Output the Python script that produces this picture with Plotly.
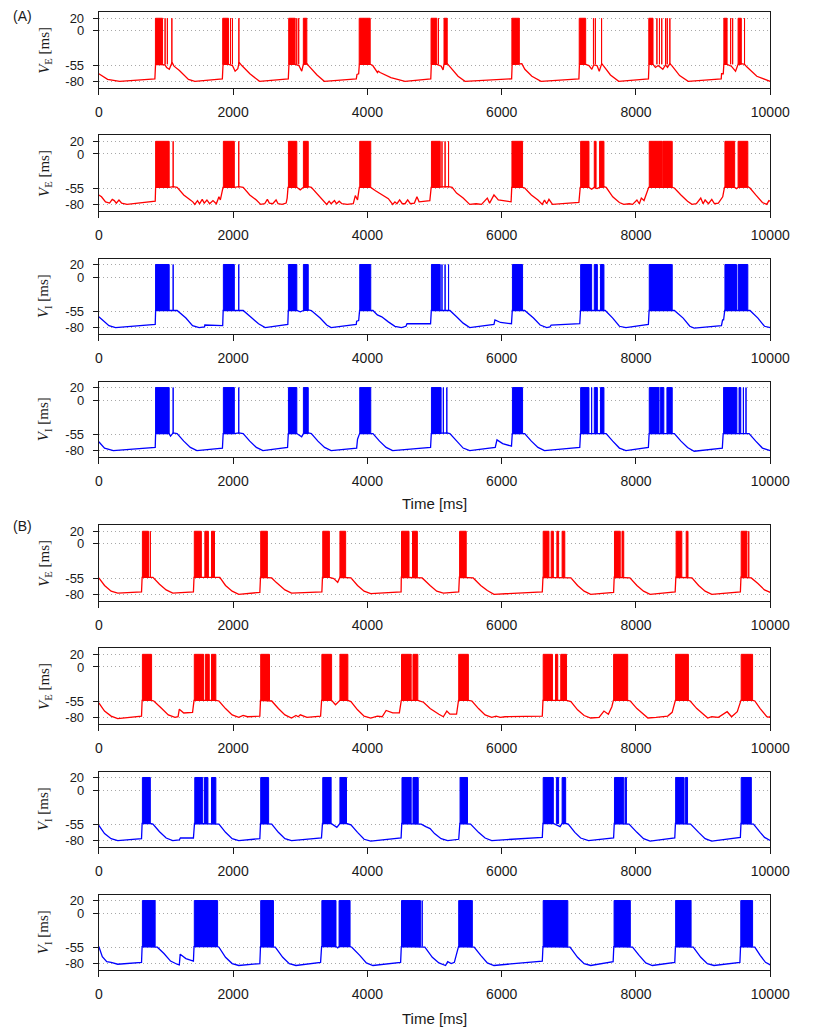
import plotly.graph_objects as go

# ---------------------------------------------------------------------------
# Membrane potential traces (time in ms, voltage in mV).
# *_trace  : subthreshold waypoints (t, v)
# *_spikes : spiking intervals [start, end]; start == end is a single spike
# ---------------------------------------------------------------------------
SPIKE_PEAK = 20
SPIKE_FLOOR = -53

X_TICKS = [0, 2000, 4000, 6000, 8000, 10000]
Y_TICKS = [20, 0, -55, -80]
Y_TICK_TEXT = ["20", "0", "-55", "-80"]

# ---- (A) row 1 : excitatory ----
a1_trace = [
    (0, -68), (130, -77), (310, -80), (835, -76), (845, -53), (950, -53), (985, -54),
    (1010, -58), (1050, -61), (1090, -50), (1120, -56), (1200, -63), (1335, -77), (1430, -80),
    (1840, -76), (1850, -53), (1935, -53), (1990, -55), (2030, -64), (2070, -60), (2090, -50),
    (2130, -55), (2250, -68), (2393, -80),
    (2822, -76), (2832, -53), (2925, -53), (2980, -55), (3022, -64), (3046, -53), (3100, -52),
    (3130, -56), (3250, -70), (3358, -80),
    (3835, -76), (3845, -69), (3870, -68), (3880, -53), (4045, -53), (4080, -55), (4114, -60),
    (4150, -66), (4162, -64), (4190, -66), (4350, -74), (4560, -80),
    (4944, -76), (4952, -53), (5035, -53), (5100, -56), (5127, -62), (5141, -53), (5190, -52),
    (5250, -60), (5350, -72), (5454, -80),
    (6148, -76), (6156, -53), (6263, -53), (6300, -52), (6345, -61), (6450, -72), (6586, -80),
    (7150, -76), (7158, -53), (7251, -53), (7300, -55), (7343, -61), (7370, -54), (7420, -55),
    (7453, -64), (7490, -52), (7520, -56), (7620, -70), (7743, -80),
    (8186, -76), (8194, -53), (8254, -53), (8290, -58), (8330, -55), (8400, -61), (8440, -54),
    (8470, -58), (8505, -52), (8540, -56), (8650, -71), (8778, -80),
    (9270, -76), (9275, -68), (9300, -68), (9309, -53), (9357, -53), (9420, -56), (9483, -64),
    (9521, -53), (9570, -52), (9617, -53), (9650, -57), (9800, -72), (10000, -80),
]
a1_spikes = [
    [843, 949], [987, 987], [1021, 1021], [1088, 1088],
    [1845, 1932], [1961, 1961], [1990, 1990], [2086, 2086],
    [2828, 2924], [2948, 2948], [2977, 2977], [3046, 3098],
    [3878, 4042],
    [4948, 5035], [5059, 5059], [5141, 5189],
    [6152, 6263],
    [7155, 7251], [7367, 7367], [7395, 7395], [7488, 7488],
    [8191, 8254], [8312, 8312], [8350, 8350], [8384, 8384], [8442, 8442], [8466, 8466], [8505, 8505],
    [9309, 9357], [9410, 9410], [9440, 9440], [9521, 9569], [9617, 9617],
]

# ---- (A) row 2 : excitatory ----
a2_trace = [
    (0, -65), (40, -68), (100, -76), (160, -78), (200, -72), (230, -74), (260, -78), (300, -73),
    (340, -78), (420, -80), (840, -75), (846, -53), (1048, -53), (1107, -52), (1166, -53),
    (1265, -65), (1363, -73), (1400, -76), (1429, -80), (1470, -74), (1500, -79), (1540, -72),
    (1570, -78), (1610, -73), (1650, -79), (1700, -74), (1750, -79), (1789, -68), (1810, -73),
    (1828, -65), (1850, -53),
    (2018, -53), (2084, -52), (2150, -53), (2248, -65), (2346, -73), (2411, -80), (2470, -79),
    (2510, -72), (2540, -78), (2590, -79), (2640, -73), (2670, -79), (2730, -80), (2790, -78),
    (2805, -70), (2818, -53),
    (2949, -53), (3000, -57), (3047, -53), (3119, -52), (3165, -53), (3263, -65), (3329, -73),
    (3394, -80), (3430, -75), (3460, -79), (3510, -74), (3540, -79), (3580, -75), (3620, -79),
    (3700, -80), (3790, -79), (3820, -66), (3853, -73), (3880, -53),
    (4050, -53), (4115, -58), (4214, -65), (4312, -71), (4377, -80), (4410, -76), (4440, -79),
    (4480, -73), (4520, -79), (4560, -79), (4600, -73), (4640, -79), (4700, -78), (4738, -68),
    (4770, -76), (4930, -74), (4950, -53),
    (5209, -52), (5262, -53), (5328, -62), (5426, -70), (5524, -80), (5620, -79), (5700, -80),
    (5786, -70), (5820, -78), (5885, -65), (5950, -73), (6140, -76), (6150, -53),
    (6311, -53), (6343, -54), (6442, -65), (6540, -73), (6605, -80), (6638, -73), (6670, -79),
    (6704, -72), (6757, -80), (7150, -77), (7170, -53),
    (7300, -53), (7340, -56), (7379, -53), (7420, -55), (7458, -53), (7523, -52), (7556, -53),
    (7654, -68), (7753, -77), (7818, -80), (7900, -79), (7950, -80), (8014, -73), (8050, -79),
    (8080, -70), (8120, -74), (8146, -65), (8190, -53),
    (8540, -53), (8572, -54), (8670, -65), (8768, -75), (8834, -80), (8900, -79), (8965, -70),
    (9000, -79), (9030, -73), (9080, -79), (9129, -72), (9170, -79), (9227, -78), (9292, -68),
    (9318, -53),
    (9470, -53), (9500, -55), (9521, -53), (9666, -52), (9698, -54), (9784, -65), (9883, -77),
    (9948, -80), (9980, -74), (10000, -75),
]
a2_spikes = [
    [846, 1048], [1107, 1107],
    [1855, 2018], [2084, 2084],
    [2824, 2949], [3047, 3119],
    [3886, 4050],
    [4954, 5085], [5111, 5111], [5157, 5157], [5209, 5209],
    [6153, 6311],
    [7176, 7300], [7379, 7406], [7458, 7523],
    [8198, 8390], [8400, 8540],
    [9325, 9470], [9521, 9666],
]

# ---- (A) row 3 : inhibitory ----
a3_trace = [
    (0, -63), (151, -77), (249, -80), (840, -75), (846, -53), (1048, -53), (1107, -52),
    (1166, -53), (1297, -65), (1396, -77), (1494, -80), (1575, -79), (1579, -76), (1845, -77),
    (1852, -53),
    (2018, -53), (2084, -52), (2150, -53), (2280, -65), (2379, -74), (2477, -80), (2815, -75),
    (2822, -53),
    (2949, -53), (3000, -55), (3047, -53), (3119, -52), (3165, -53), (3296, -65), (3394, -76),
    (3460, -80), (3834, -75), (3840, -70), (3870, -69), (3884, -53),
    (4050, -53), (4083, -53), (4148, -60), (4214, -63), (4312, -71), (4410, -78), (4508, -80),
    (4574, -78), (4590, -74), (4941, -74), (4952, -53),
    (5209, -52), (5229, -53), (5328, -63), (5426, -73), (5524, -80), (5885, -75), (5900, -68),
    (5983, -72), (6146, -74), (6158, -53),
    (6311, -53), (6343, -53), (6474, -65), (6573, -76), (6671, -80), (6720, -79), (6737, -76),
    (7163, -74), (7174, -53),
    (7523, -52), (7543, -53), (7654, -65), (7753, -78), (7851, -80), (8185, -75), (8196, -53),
    (8540, -53), (8572, -53), (8703, -65), (8802, -78), (8867, -81), (9273, -77), (9290, -68),
    (9305, -68), (9322, -53),
    (9666, -52), (9698, -53), (9816, -65), (9914, -78), (10000, -80),
]
a3_spikes = [
    [845, 1048], [1107, 1107],
    [1855, 2018], [2084, 2084],
    [2824, 2949], [3047, 3119],
    [3886, 4050],
    [4954, 5085], [5111, 5111], [5157, 5157], [5209, 5209],
    [6160, 6311],
    [7176, 7340], [7379, 7425], [7471, 7523],
    [8198, 8540],
    [9325, 9497], [9521, 9666],
]

# ---- (A) row 4 : inhibitory ----
a4_trace = [
    (0, -66), (85, -76), (216, -80), (840, -75), (846, -53), (1048, -53), (1068, -57),
    (1090, -53), (1107, -52), (1166, -53), (1265, -65), (1363, -75), (1461, -80), (1841, -76),
    (1852, -53),
    (2018, -53), (2084, -52), (2150, -53), (2248, -65), (2346, -75), (2444, -80), (2811, -75),
    (2822, -53),
    (2949, -53), (3021, -58), (3047, -53), (3119, -52), (3165, -53), (3263, -65), (3362, -75),
    (3460, -80), (3840, -76), (3853, -62), (3884, -53),
    (4050, -53), (4083, -53), (4181, -65), (4279, -75), (4377, -80), (4941, -75), (4952, -53),
    (5183, -52), (5229, -53), (5328, -65), (5426, -76), (5524, -80), (5904, -75), (5930, -63),
    (6015, -69), (6146, -73), (6158, -53),
    (6311, -53), (6343, -53), (6442, -65), (6540, -75), (6638, -80), (7163, -75), (7174, -53),
    (7523, -52), (7556, -53), (7654, -65), (7753, -76), (7851, -80), (8185, -75), (8196, -53),
    (8540, -53), (8572, -53), (8670, -65), (8768, -75), (8867, -81), (9286, -76), (9299, -53),
    (9639, -52), (9685, -53), (9784, -65), (9883, -76), (10000, -80),
]
a4_spikes = [
    [845, 1048], [1107, 1107],
    [1855, 2018], [2084, 2084],
    [2824, 2949], [3047, 3119],
    [3886, 4050],
    [4954, 5098], [5131, 5131], [5183, 5183],
    [6160, 6311],
    [7176, 7300], [7340, 7340], [7379, 7425], [7471, 7523],
    [8198, 8343], [8362, 8415], [8461, 8540],
    [9305, 9503], [9535, 9561], [9600, 9600], [9639, 9639],
]

# ---- (B) row 1 : excitatory ----
b1_trace = [
    (0, -54), (85, -66), (183, -75), (282, -78), (636, -76), (645, -53),
    (741, -53), (806, -53), (904, -64), (1003, -73), (1101, -78), (1409, -76), (1418, -53),
    (1723, -53), (1802, -53), (1887, -66), (1986, -75), (2084, -80), (2398, -77), (2408, -53),
    (2510, -53), (2575, -54), (2641, -61), (2772, -73), (2870, -78), (3322, -76), (3331, -53),
    (3434, -53), (3500, -55), (3558, -61), (3591, -53), (3676, -53), (3755, -54), (3853, -66),
    (3951, -75), (4050, -79), (4502, -76), (4505, -53),
    (4744, -53), (4816, -54), (4934, -66), (5033, -75), (5131, -78), (5360, -76), (5370, -53),
    (5472, -53), (5576, -54), (5688, -66), (5786, -74), (5885, -80), (6605, -76), (6615, -53),
    (6940, -53), (7031, -54), (7130, -66), (7228, -75), (7326, -80), (7667, -77), (7676, -53),
    (7818, -53), (7910, -54), (8014, -66), (8113, -75), (8211, -80), (8584, -76), (8594, -53),
    (8775, -53), (8834, -54), (8933, -66), (9030, -75), (9129, -80), (9555, -76), (9564, -53),
    (9686, -53), (9718, -54), (9816, -63), (9914, -73), (10000, -77),
]
b1_spikes = [
    [649, 741], [767, 767],
    [1422, 1527], [1579, 1632], [1678, 1723],
    [2411, 2510],
    [3335, 3434], [3591, 3676],
    [4508, 4620], [4672, 4744],
    [5373, 5472],
    [6618, 6704], [6737, 6770], [6822, 6848], [6900, 6940],
    [7680, 7766], [7792, 7818],
    [8598, 8683], [8748, 8775],
    [9567, 9653], [9680, 9686],
]

# ---- (B) row 2 : excitatory ----
b2_trace = [
    (0, -57), (85, -70), (183, -78), (282, -82), (636, -78), (645, -53),
    (786, -53), (819, -54), (937, -66), (1035, -76), (1134, -80), (1180, -79), (1199, -67),
    (1265, -73), (1396, -72), (1418, -53),
    (1743, -53), (1789, -54), (1887, -66), (1986, -76), (2084, -80), (2149, -77), (2215, -79),
    (2398, -78), (2408, -53),
    (2542, -53), (2575, -54), (2674, -66), (2772, -76), (2870, -81), (2936, -77), (2970, -79),
    (3001, -76), (3100, -80), (3303, -78), (3318, -53),
    (3467, -53), (3525, -60), (3591, -53), (3709, -53), (3755, -55), (3853, -68), (3951, -78),
    (4050, -81), (4148, -78), (4220, -79), (4279, -69), (4377, -73), (4476, -73), (4505, -53),
    (4751, -53), (4836, -56), (4934, -66), (5065, -75), (5131, -79), (5183, -70), (5229, -75),
    (5328, -75), (5357, -53),
    (5504, -53), (5557, -54), (5655, -66), (5753, -76), (5852, -80), (5917, -78), (5980, -80),
    (6048, -79), (6605, -78), (6615, -53),
    (6966, -53), (7031, -55), (7130, -68), (7228, -77), (7326, -81), (7450, -80), (7523, -70),
    (7589, -75), (7641, -63), (7664, -53),
    (7877, -53), (7916, -54), (8014, -66), (8113, -76), (8178, -81), (8300, -80), (8375, -79),
    (8473, -78), (8539, -72), (8587, -53),
    (8781, -53), (8808, -54), (8906, -66), (9004, -76), (9069, -81), (9129, -79), (9227, -80),
    (9358, -71), (9424, -79), (9509, -71), (9564, -53),
    (9737, -53), (9770, -54), (9850, -66), (9948, -79), (9990, -80), (10000, -78),
]
b2_spikes = [
    [649, 786],
    [1422, 1560], [1586, 1645], [1678, 1743],
    [2411, 2542],
    [3322, 3467], [3591, 3709],
    [4508, 4652], [4679, 4751],
    [5360, 5504],
    [6618, 6756], [6802, 6835], [6880, 6966],
    [7667, 7877],
    [8591, 8781],
    [9567, 9737],
]

# ---- (B) row 3 : inhibitory ----
b3_trace = [
    (0, -56), (85, -69), (183, -77), (282, -80), (636, -77), (645, -53),
    (767, -53), (806, -54), (904, -66), (1003, -76), (1101, -80), (1199, -79), (1215, -76),
    (1409, -76), (1425, -53),
    (1743, -53), (1789, -54), (1887, -67), (1986, -77), (2084, -80), (2398, -77), (2408, -53),
    (2529, -53), (2575, -54), (2674, -67), (2772, -77), (2870, -80), (3316, -76), (3331, -53),
    (3460, -53), (3545, -59), (3591, -53), (3689, -53), (3755, -55), (3853, -67), (3951, -78),
    (4050, -81), (4502, -76), (4512, -53),
    (4757, -53), (4803, -54), (4869, -58), (4934, -61), (5000, -69), (5098, -77), (5196, -80),
    (5360, -78), (5377, -53),
    (5491, -53), (5537, -54), (5655, -67), (5753, -76), (5852, -80), (6605, -75), (6615, -53),
    (6769, -53), (6870, -58), (6900, -53), (6953, -53), (6992, -54), (7090, -67), (7176, -76),
    (7293, -80), (7667, -76), (7677, -53),
    (7858, -53), (7897, -54), (8014, -67), (8113, -77), (8211, -81), (8578, -76), (8588, -53),
    (8768, -53), (8814, -54), (8933, -67), (9030, -77), (9129, -81), (9555, -75), (9564, -53),
    (9718, -53), (9751, -54), (9850, -67), (9915, -75), (10000, -80),
]
b3_spikes = [
    [649, 767],
    [1429, 1547], [1573, 1625], [1678, 1743],
    [2411, 2529],
    [3335, 3460], [3591, 3689],
    [4515, 4652], [4679, 4757],
    [5380, 5491],
    [6618, 6769], [6815, 6848], [6900, 6953],
    [7680, 7818], [7838, 7858],
    [8591, 8716], [8735, 8768],
    [9567, 9718],
]

# ---- (B) row 4 : inhibitory ----
b4_trace = [
    (0, -53), (52, -69), (118, -77), (183, -78), (282, -81), (636, -78), (645, -53),
    (839, -53), (872, -54), (970, -64), (1068, -76), (1166, -81), (1199, -82), (1212, -65),
    (1297, -72), (1409, -76), (1418, -53),
    (1769, -53), (1789, -54), (1887, -70), (1986, -80), (2084, -83), (2398, -80), (2408, -53),
    (2601, -53), (2628, -54), (2739, -70), (2837, -80), (2936, -83), (3303, -78), (3318, -53),
    (3532, -53), (3558, -55), (3578, -53), (3742, -53), (3768, -54), (3886, -67), (3984, -79),
    (4083, -83), (4495, -78), (4505, -53),
    (4816, -53), (4856, -54), (4967, -70), (5065, -79), (5164, -83), (5196, -77), (5249, -80),
    (5295, -78), (5357, -53),
    (5563, -53), (5590, -54), (5688, -67), (5786, -79), (5885, -83), (6605, -76), (6615, -53),
    (6985, -53), (7018, -54), (7130, -70), (7228, -80), (7326, -83), (7660, -77), (7670, -53),
    (7916, -53), (7949, -54), (8047, -67), (8146, -79), (8244, -83), (8578, -78), (8588, -53),
    (8821, -53), (8853, -54), (8965, -70), (9063, -80), (9162, -83), (9548, -78), (9558, -53),
    (9737, -53), (9770, -54), (9850, -67), (9929, -78), (10000, -82),
]
b4_spikes = [
    [649, 839],
    [1422, 1769],
    [2411, 2601],
    [3322, 3532], [3578, 3742],
    [4508, 4790], [4816, 4816],
    [5360, 5563],
    [6618, 6985],
    [7674, 7916],
    [8591, 8821],
    [9561, 9737],
]

RED = "#ff0000"
BLUE = "#0000ff"
LABEL_E = "<i>V</i><sub>E</sub> [ms]"
LABEL_I = "<i>V</i><sub>I</sub> [ms]"

panels = [
    (a1_trace, a1_spikes, RED, LABEL_E),
    (a2_trace, a2_spikes, RED, LABEL_E),
    (a3_trace, a3_spikes, BLUE, LABEL_I),
    (a4_trace, a4_spikes, BLUE, LABEL_I),
    (b1_trace, b1_spikes, RED, LABEL_E),
    (b2_trace, b2_spikes, RED, LABEL_E),
    (b3_trace, b3_spikes, BLUE, LABEL_I),
    (b4_trace, b4_spikes, BLUE, LABEL_I),
]

# ---------------------------------------------------------------------------
# Layout geometry (pixels)
# ---------------------------------------------------------------------------
W, H = 815, 1032
PLOT_LEFT, PLOT_RIGHT = 97.7, 789.5
PANEL_H = 75.8
PANEL_TOPS = [11.3, 134.6, 258.0, 381.3, 525.3, 648.6, 772.0, 895.3]

SANS = "Liberation Sans, Arial, sans-serif"
SERIF = "Liberation Serif, Times New Roman, serif"
INK = "#1a1a1a"

fig = go.Figure()
layout = dict(
    width=W, height=H,
    margin=dict(l=0, r=0, t=0, b=0),
    paper_bgcolor="white", plot_bgcolor="white",
    showlegend=False,
    annotations=[],
)

for i, (trace, spikes, color, ylab) in enumerate(panels):
    n = i + 1
    xname = "x" if n == 1 else f"x{n}"
    yname = "y" if n == 1 else f"y{n}"
    top = PANEL_TOPS[i]
    y_dom = [1 - (top + PANEL_H) / H, 1 - top / H]

    t_vals = [p[0] for p in trace]
    v_vals = [p[1] for p in trace]
    fig.add_trace(go.Scatter(
        x=t_vals, y=v_vals, mode="lines",
        line=dict(color=color, width=1.3),
        xaxis=xname, yaxis=yname, hoverinfo="skip",
    ))

    # spike bursts: filled blocks from plateau up to spike peak
    sx, sy = [], []
    for s, e in spikes:
        sx += [s, s, e, e, s, None]
        sy += [SPIKE_FLOOR, SPIKE_PEAK, SPIKE_PEAK, SPIKE_FLOOR, SPIKE_FLOOR, None]
    fig.add_trace(go.Scatter(
        x=sx, y=sy, mode="lines", fill="toself", fillcolor=color,
        line=dict(color=color, width=1.0),
        xaxis=xname, yaxis=yname, hoverinfo="skip",
    ))

    layout["xaxis" if n == 1 else f"xaxis{n}"] = dict(
        domain=[PLOT_LEFT / W, PLOT_RIGHT / W],
        anchor=yname, range=[0, 10000],
        tickvals=X_TICKS, ticktext=[str(v) for v in X_TICKS],
        ticks="outside", ticklen=6, tickwidth=1, tickcolor=INK,
        showline=True, mirror=True, linecolor=INK, linewidth=1.2,
        showgrid=False, zeroline=False,
        tickfont=dict(family=SANS, size=14, color=INK),
        ticklabelstandoff=5,
    )
    layout["yaxis" if n == 1 else f"yaxis{n}"] = dict(
        domain=y_dom, anchor=xname, range=[-90.5, 29.5],
        tickvals=Y_TICKS, ticktext=Y_TICK_TEXT,
        ticks="outside", ticklen=5, tickwidth=1, tickcolor=INK,
        showline=True, mirror=True, linecolor=INK, linewidth=1.2,
        showgrid=True, gridcolor="#a8a8a8", griddash="1px,3px", gridwidth=1,
        zeroline=False,
        tickfont=dict(family=SANS, size=13, color=INK),
        ticklabelstandoff=6,
    )
    layout["annotations"].append(dict(
        text=ylab, textangle=-90, showarrow=False,
        xref="paper", yref="paper",
        x=42 / W, y=1 - (top + PANEL_H / 2) / H,
        xanchor="center", yanchor="middle",
        font=dict(family=SERIF, size=15, color=INK),
    ))

# group labels and time axis titles
for text, ypx in [("(A)", 15), ("(B)", 526)]:
    layout["annotations"].append(dict(
        text=text, showarrow=False, xref="paper", yref="paper",
        x=19 / W, y=1 - ypx / H, xanchor="center", yanchor="middle",
        font=dict(family=SANS, size=14, color=INK),
    ))
for ypx in [503, 1019]:
    layout["annotations"].append(dict(
        text="Time [ms]", showarrow=False, xref="paper", yref="paper",
        x=(PLOT_LEFT + PLOT_RIGHT) / 2 / W, y=1 - ypx / H,
        xanchor="center", yanchor="middle",
        font=dict(family=SANS, size=15, color=INK),
    ))

fig.update_layout(**layout)
fig.write_html("out.html")
